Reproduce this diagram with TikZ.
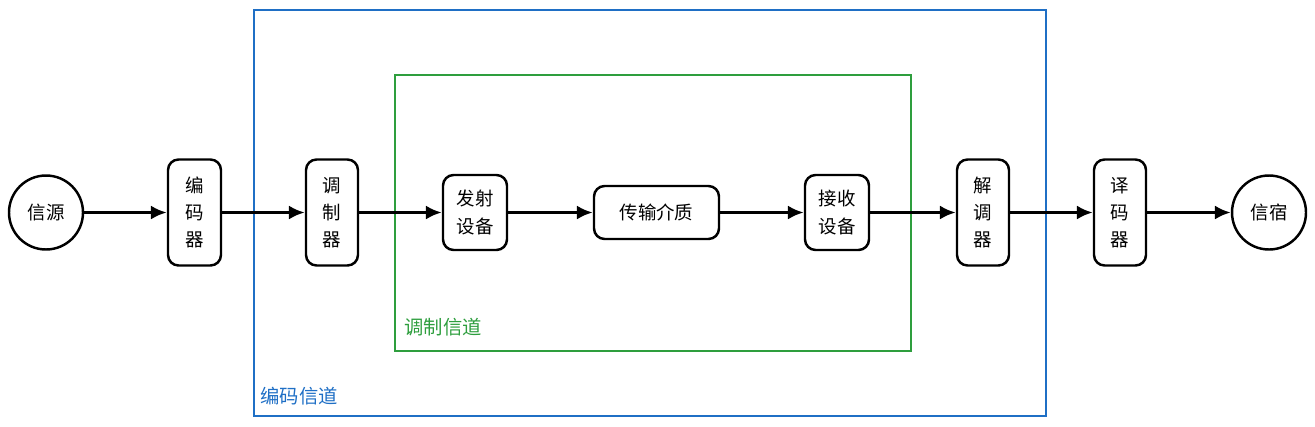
\documentclass[tikz,border=0pt]{standalone}
\usepackage{fontspec}
\usepackage{xcolor}
\usepackage{tikz}
\usetikzlibrary{arrows.meta,calc}
\newfontfamily\cjk{Noto Sans CJK SC}
\definecolor{chanblue}{HTML}{1F6FC5}
\definecolor{changreen}{HTML}{2E9E3E}
\newdimen\pxu \pxu=0.2mm
\tikzset{
  blk/.style={draw,line width=1.4pt,rounded corners=6pt,align=center,font=\cjk\fontsize{10.5}{15.5}\selectfont,inner sep=0pt},
  endpt/.style={draw,line width=1.4pt,circle,minimum size=74\pxu,inner sep=0pt,font=\cjk\fontsize{10.5}{12}\selectfont},
  flow/.style={line width=1.8pt,-{Latex[length=9pt,width=8pt]}},
  chanlabel/.style={anchor=south west,font=\cjk\fontsize{11}{13}\selectfont,inner sep=0pt}
}
\begin{document}
\begin{tikzpicture}[x=0.2mm,y=-0.2mm]
					\useasboundingbox (0,0) rectangle (1315,426);
					% channels
					\draw[chanblue,line width=0.9pt] (254,10) rectangle (1046,416);
					\node[chanlabel,text=chanblue] (codechan) at (260,405) {编码信道};
					\draw[changreen,line width=0.9pt] (395,75) rectangle (911,351);
					\node[chanlabel,text=changreen] (modchan) at (404,336) {调制信道};
					% blocks
					\node[endpt] (src) at (46,212.5) {信源};
					\node[blk,minimum width=53\pxu,minimum height=106\pxu] (enc) at (194.5,212.5) {编\\码\\器};
					\node[blk,minimum width=52\pxu,minimum height=106\pxu] (mod) at (332,212.5) {调\\制\\器};
					\node[blk,minimum width=64\pxu,minimum height=75\pxu] (tx) at (475,212.5) {发射\\设备};
					\node[blk,minimum width=125\pxu,minimum height=53\pxu] (med) at (656.5,212.5) {传输介质};
					\node[blk,minimum width=64\pxu,minimum height=75\pxu] (rx) at (837,212.5) {接收\\设备};
					\node[blk,minimum width=52\pxu,minimum height=106\pxu] (dem) at (983,212.5) {解\\调\\器};
					\node[blk,minimum width=52\pxu,minimum height=106\pxu] (dec) at (1120,212.5) {译\\码\\器};
					\node[endpt] (dst) at (1269,212.5) {信宿};
					% links
					\draw[flow] (src) -- (enc);
					\draw[flow] (enc) -- (mod);
					\draw[flow] (mod) -- (tx);
					\draw[flow] (tx) -- (med);
					\draw[flow] (med) -- (rx);
					\draw[flow] (rx) -- (dem);
					\draw[flow] (dem) -- (dec);
					\draw[flow] (dec) -- (dst);
				\end{tikzpicture}
\end{document}
